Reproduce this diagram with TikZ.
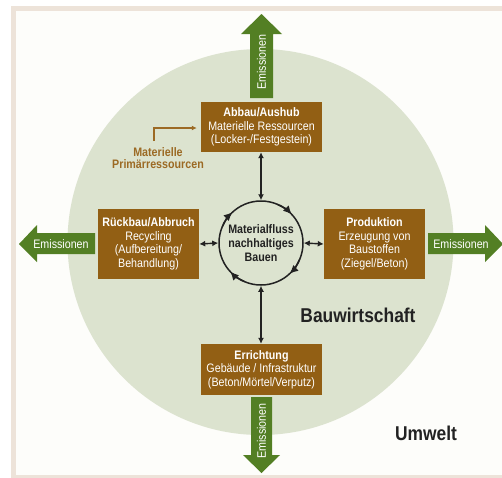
\documentclass[tikz,border=0pt]{standalone}
\usepackage{fontspec}
\setmainfont{Liberation Sans}[FakeStretch=0.87]
\usetikzlibrary{arrows.meta}
\definecolor{boxbrown}{HTML}{925F14}
\definecolor{emgreen}{HTML}{537F24}
\definecolor{sage}{HTML}{DCE3CF}
\definecolor{framebeige}{HTML}{EDE3D9}
\definecolor{paper}{HTML}{FDFDFA}
\definecolor{labelbrown}{HTML}{9C6A24}
\definecolor{darktext}{HTML}{222222}
\begin{document}
\begin{tikzpicture}[x=1pt,y=-1pt,
  every node/.style={font=\fontsize{12.3}{13.6}\selectfont},
  stagebox/.style={fill=boxbrown, text=white, align=center, inner sep=0pt},
  emarrow/.style={fill=emgreen},
  emtext/.style={text=white, inner sep=0pt},
  dbl/.style={line width=1.4pt, darktext, {Latex[length=6pt,width=6pt]}-{Latex[length=6pt,width=6pt]}},
  cyc/.style={line width=1.5pt, darktext, -{Latex[length=8.5pt,width=8pt]}},
  bigtext/.style={font=\fontsize{20}{22}\selectfont\bfseries, text=darktext}
]
\useasboundingbox (0,0) rectangle (502,477);
% frame
\fill[white] (0,0) rectangle (502,477);
\fill[framebeige] (11,6) rectangle (510,480);
\fill[paper] (16,11) rectangle (510,475);
% big circle
\fill[sage] (260.5,242) circle (193);
% emission arrows
\fill[emarrow] (250,98) -- (250,34) -- (241,34) -- (261.5,14) -- (282,34) -- (273,34) -- (273,98) -- cycle;
\fill[emarrow] (95,233) -- (37,233) -- (37,225) -- (19,244) -- (37,262) -- (37,254) -- (95,254) -- cycle;
\fill[emarrow] (428,233) -- (485,233) -- (485,225) -- (503,244) -- (485,262) -- (485,254) -- (428,254) -- cycle;
\fill[emarrow] (251,397) -- (251,455) -- (243,455) -- (261.5,473) -- (280,455) -- (272,455) -- (272,397) -- cycle;
\node[emtext, rotate=90] (emtop) at (261.5,62) {Emissionen};
\node[emtext] (emleft) at (61,244) {Emissionen};
\node[emtext] (emright) at (461,244) {Emissionen};
\node[emtext, rotate=90] (embottom) at (261.5,431) {Emissionen};
% stage boxes
\node[stagebox, minimum width=121pt, minimum height=50pt] (abbau) at (261.5,127)
  {\textbf{Abbau/Aushub}\\Materielle Ressourcen\\(Locker-/Festgestein)};
\node[stagebox, minimum width=101pt, minimum height=70pt] (rueck) at (148.5,244)
  {\textbf{Rückbau/Abbruch}\\Recycling\\(Aufbereitung/\\Behandlung)};
\node[stagebox, minimum width=101pt, minimum height=70pt] (prod) at (374.5,244)
  {\textbf{Produktion}\\Erzeugung von\\Baustoffen\\(Ziegel/Beton)};
\node[stagebox, minimum width=121pt, minimum height=51pt] (err) at (261.5,369.5)
  {\textbf{Errichtung}\\Gebäude / Infrastruktur\\(Beton/Mörtel/Verputz)};
% central cycle
\node[circle, draw=darktext, line width=1.5pt, minimum size=84pt, inner sep=0pt,
  align=center, text=darktext, font=\fontsize{12.3}{13.6}\selectfont\bfseries] (mf) at (261,243)
  {Materialfluss\\nachhaltiges\\Bauen};
\foreach \a in {-45,45,135,225} {
  \draw[cyc] ([shift={(\a-22:42)}]mf.center) arc (\a-22:\a+2:42);
}
% connectors
\draw[dbl] (abbau.south -| mf.north) -- (mf.north);
\draw[dbl] (rueck.east) -- (mf.west);
\draw[dbl] (mf.east) -- (prod.west);
\draw[dbl] (mf.south) -- (err.north -| mf.south);
% primary resources
\node[text=labelbrown, align=center, font=\fontsize{12.3}{12.5}\selectfont\bfseries, inner sep=0pt] (mat) at (158,158)
  {Materielle\\Primärressourcen};
\coordinate (matstart) at (154,141);
\draw[labelbrown, line width=1.2pt, -{Latex[length=5pt,width=5pt]}] (matstart) |- ([xshift=-4pt,yshift=-1pt]abbau.west);
% labels
\node[bigtext] (bw) at (358,315) {Bauwirtschaft};
\node[bigtext] (uw) at (426,433) {Umwelt};
\end{tikzpicture}
\end{document}
